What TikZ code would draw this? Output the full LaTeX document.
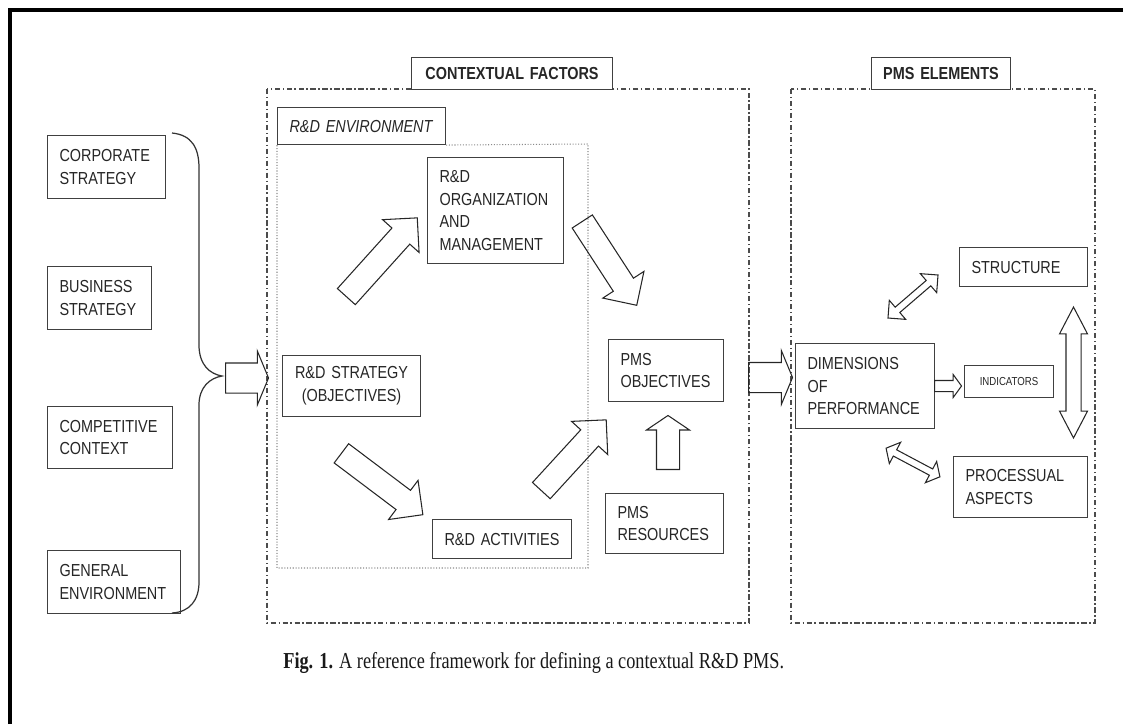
\documentclass[tikz,border=0pt]{standalone}
\usepackage{fontspec}
\setmainfont{Liberation Sans}[FakeStretch=0.83]
\newfontfamily\capfont{Liberation Serif}[FakeStretch=0.8]
\usetikzlibrary{shapes.arrows}
\begin{document}
\begin{tikzpicture}[
  x=0.02cm, y=-0.02cm,
  box/.style={rectangle, draw=black!75, fill=white, line width=0.6pt, inner xsep=0.24cm, inner ysep=0pt, anchor=north west, align=left, text=black!85, font=\fontsize{9.9}{13}\selectfont},
  title/.style={box, inner xsep=0pt, align=center, font=\fontsize{9.9}{13}\selectfont\bfseries},
  area/.style={draw=black!70, line width=0.7pt, dash pattern=on 3pt off 1.5pt on 0.8pt off 1.5pt},
  fatarrow/.style={single arrow, draw=black!85, line width=0.6pt, inner xsep=0pt, inner ysep=0.23cm, single arrow head extend=0.25cm, single arrow tip angle=90, anchor=tail},
  twinarrow/.style={double arrow, draw=black!85, line width=0.6pt, inner xsep=0pt, inner ysep=0.06cm, double arrow head extend=0.18cm, double arrow tip angle=90}
]
\useasboundingbox (0,0) rectangle (1123,724);
\draw[line width=2.3pt] (10,724) -- (10,10) -- (1123,10);

\node[box, text width=1.88cm, minimum height=1.26cm] (corp) at (47,135) {CORPORATE\\STRATEGY};
\node[box, text width=1.6cm, minimum height=1.26cm] (bus) at (47,266) {BUSINESS\\STRATEGY};
\node[box, text width=2.02cm, minimum height=1.24cm] (comp) at (47,406) {COMPETITIVE\\CONTEXT};
\node[box, text width=2.18cm, minimum height=1.26cm] (genv) at (47,550) {GENERAL\\ENVIRONMENT};

\draw[black!80, line width=0.7pt] (172,133) .. controls (192,135) and (199,148) .. (199,168) -- (199,345)
  .. controls (199,365) and (210,374) .. (222,376) .. controls (210,378) and (199,387) .. (199,405)
  -- (199,582) .. controls (199,600) and (190,612) .. (172,613);

\draw[area] (267,89) rectangle (749,623);
\draw[area] (791,89) rectangle (1095,623);
\node[title, text width=4.02cm, minimum height=0.64cm] (ctxlabel) at (411,57) {CONTEXTUAL FACTORS};
\node[title, text width=2.78cm, minimum height=0.64cm] (pmslabel) at (871,57) {PMS ELEMENTS};

\node[box, text width=2.88cm, minimum height=0.74cm, font=\fontsize{9.9}{13}\selectfont\itshape] (envlabel) at (277,107) {R\&D ENVIRONMENT};
\draw[black!45, densely dotted, line width=0.6pt] (envlabel.south east) -- (588,144) -- (588,568) -- (277,568) -- (envlabel.south west);

\node[box, text width=2.24cm, minimum height=2.12cm] (org) at (427,157) {R\&D\\ORGANIZATION\\AND\\MANAGEMENT};
\node[box, align=center, text width=2.28cm, minimum height=1.22cm] (strat) at (282,355) {R\&D STRATEGY\\(OBJECTIVES)};
\node[box, text width=2.3cm, minimum height=0.78cm] (act) at (432,519) {R\&D ACTIVITIES};
\node[box, text width=1.82cm, minimum height=1.24cm] (pobj) at (608,339) {PMS\\OBJECTIVES};
\node[box, text width=1.88cm, minimum height=1.2cm] (pres) at (605,493) {PMS\\RESOURCES};

\node[box, text width=2.3cm, minimum height=1.7cm] (dims) at (795,343) {DIMENSIONS\\OF\\PERFORMANCE};
\node[box, align=center, text width=1.3cm, minimum height=0.64cm, font=\fontsize{6.6}{8}\selectfont] (ind) at (964,365) {INDICATORS};
\node[box, text width=2.08cm, minimum height=0.78cm] (struct) at (959,247) {STRUCTURE};
\node[box, text width=2.2cm, minimum height=1.22cm] (proc) at (953,456) {PROCESSUAL\\ASPECTS};

\node[fatarrow, minimum height=0.86cm, inner ysep=0.29cm, single arrow head extend=0.24cm, single arrow tip angle=135] (inarrow) at (225,378) {};
\node[fatarrow, minimum height=2.12cm, rotate=48] (stratorg) at (346,297) {};
\node[fatarrow, minimum height=2.0cm, rotate=-57] (orgpobj) at (582,221) {};
\node[fatarrow, minimum height=2.04cm, rotate=-37] (stratact) at (341,453) {};
\node[fatarrow, minimum height=1.92cm, rotate=47.5] (actpobj) at (541,491) {};
\node[fatarrow, minimum height=1.08cm, inner ysep=0.22cm, single arrow head extend=0.2cm, single arrow tip angle=112, rotate=90] (prespobj) at (668,470) {};
\node[fatarrow, minimum height=0.88cm, inner ysep=0.29cm, single arrow head extend=0.24cm, single arrow tip angle=135] (outarrow) at (748,377.5) {};
\node[fatarrow, minimum height=0.54cm, inner ysep=0.1cm, single arrow head extend=0.12cm, single arrow tip angle=108] (dimsind) at (934,386) {};

\node[twinarrow, minimum height=2.62cm, inner ysep=0.14cm, double arrow head extend=0.13cm, double arrow tip angle=55, rotate=90] (structproc) at (1073.5,372.5) {};
\node[twinarrow, minimum height=1.32cm, rotate=40.7] (dimsstruct) at (913,296.5) {};
\node[twinarrow, minimum height=1.22cm, double arrow head extend=0.17cm, double arrow tip angle=100, rotate=-28] (dimsproc) at (913,462.5) {};

\node[anchor=west, inner sep=0pt, text=black!90, font=\capfont\fontsize{13}{15}\selectfont] (caption) at (283,663) {\textbf{Fig. 1.} A reference framework for defining a contextual R\&D PMS.};
\end{tikzpicture}
\end{document}
